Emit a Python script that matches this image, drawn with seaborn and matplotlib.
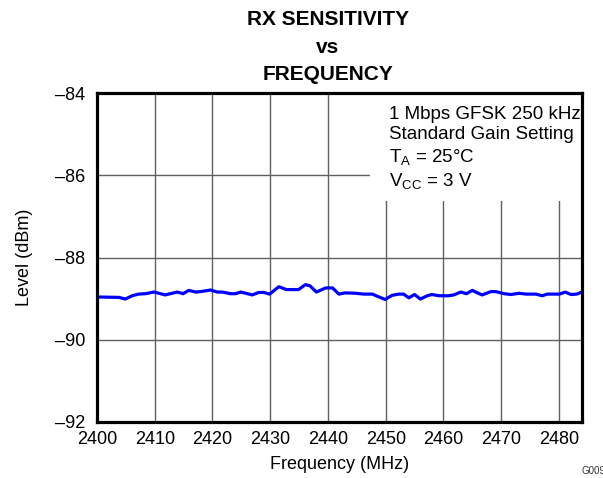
import matplotlib
matplotlib.use("Agg")
import matplotlib.pyplot as plt
import matplotlib.patches as mpatches
import seaborn as sns
import pandas as pd

freq_mhz = [2400.0, 2403.8, 2404.9, 2406.1, 2407.2, 2408.4, 2409.9, 2411.8, 2413.9, 2414.9,
            2415.9, 2417.1, 2417.9, 2419.7, 2420.8, 2421.7, 2423.1, 2424.0, 2424.9, 2426.9,
            2428.0, 2428.9, 2429.9, 2431.5, 2432.8, 2434.9, 2436.1, 2436.9, 2438.0, 2439.6,
            2440.8, 2441.9, 2443.0, 2444.8, 2446.2, 2447.7, 2448.5, 2449.9, 2451.1, 2452.3,
            2453.1, 2454.0, 2455.0, 2456.0, 2457.2, 2458.0, 2459.2, 2460.9, 2461.8, 2463.0,
            2464.0, 2465.0, 2465.9, 2466.7, 2468.2, 2469.1, 2470.5, 2471.7, 2473.1, 2474.3,
            2476.0, 2477.1, 2478.0, 2480.1, 2481.1, 2482.1, 2483.1, 2484.0]
level_dbm = [-88.96, -88.97, -89.01, -88.93, -88.89, -88.88, -88.84, -88.91, -88.84, -88.88,
             -88.80, -88.84, -88.83, -88.79, -88.84, -88.84, -88.88, -88.88, -88.84, -88.91,
             -88.85, -88.85, -88.89, -88.71, -88.78, -88.78, -88.66, -88.69, -88.84, -88.74,
             -88.74, -88.89, -88.86, -88.87, -88.89, -88.89, -88.94, -89.02, -88.92, -88.89,
             -88.89, -88.98, -88.90, -89.01, -88.93, -88.90, -88.93, -88.93, -88.91, -88.84,
             -88.88, -88.80, -88.86, -88.91, -88.83, -88.83, -88.88, -88.90, -88.87, -88.89,
             -88.89, -88.93, -88.89, -88.89, -88.84, -88.90, -88.89, -88.84]

x_ticks = [2400, 2410, 2420, 2430, 2440, 2450, 2460, 2470, 2480]
y_ticks = [-92, -90, -88, -86, -84]
y_tick_labels = ["\u201392", "\u201390", "\u201388", "\u201386", "\u201384"]

sns.set_theme(style="white")
plt.rcParams['font.family'] = ['Liberation Sans', 'DejaVu Sans']
plt.rcParams['text.color'] = 'black'
plt.rcParams['axes.labelcolor'] = 'black'

fig = plt.figure(figsize=(6.03, 4.78), dpi=100)
ax = fig.add_axes([97/603, 1-422/478, (582-97)/603, (422-93)/478])

df = pd.DataFrame({"f": freq_mhz, "v": level_dbm})
sns.lineplot(data=df, x="f", y="v", ax=ax, color="#0000FF", linewidth=2.3, zorder=3)

ax.set_xlim(2400, 2484)
ax.set_ylim(-92, -84)
ax.set_xticks(x_ticks)
ax.set_xticklabels([str(t) for t in x_ticks], fontsize=13)
ax.set_yticks(y_ticks)
ax.set_yticklabels(y_tick_labels, fontsize=13)
ax.tick_params(axis='both', length=0, colors='black')
ax.tick_params(axis='x', pad=6.5)
ax.tick_params(axis='y', pad=8.5)
ax.grid(True, color="#606060", linewidth=1.0)
for s in ax.spines.values():
    s.set_visible(True)
    s.set_color("black")
    s.set_linewidth(2.3)
    s.set_zorder(6)

ax.set_xlabel("Frequency (MHz)", fontsize=13, labelpad=6)
ax.set_ylabel("Level (dBm)", fontsize=13, labelpad=16)

fig.text(328/603, 1 - 47/478, "RX SENSITIVITY\nvs\nFREQUENCY",
         ha="center", va="center", fontsize=15, fontweight="bold", linespacing=1.57)

# white box behind the condition text (covers grid)
ax.add_patch(mpatches.Rectangle((0.563, 0.672), 0.437, 0.328, transform=ax.transAxes,
                                facecolor="white", edgecolor="none", zorder=4))
ax.text((389-97)/485, (422-106)/329,
        "1 Mbps GFSK 250 kHz\nStandard Gain Setting\n$\\mathregular{T_A}$ = 25°C\n$\\mathregular{V_{CC}}$ = 3 V",
        transform=ax.transAxes, ha="left", va="top", fontsize=13.5, linespacing=1.25,
        zorder=5)

fig.text(582/603, 1 - 471/478, "G009", fontsize=7, ha="left", va="center", color="#333333")

fig.savefig("out.png", dpi=100)
